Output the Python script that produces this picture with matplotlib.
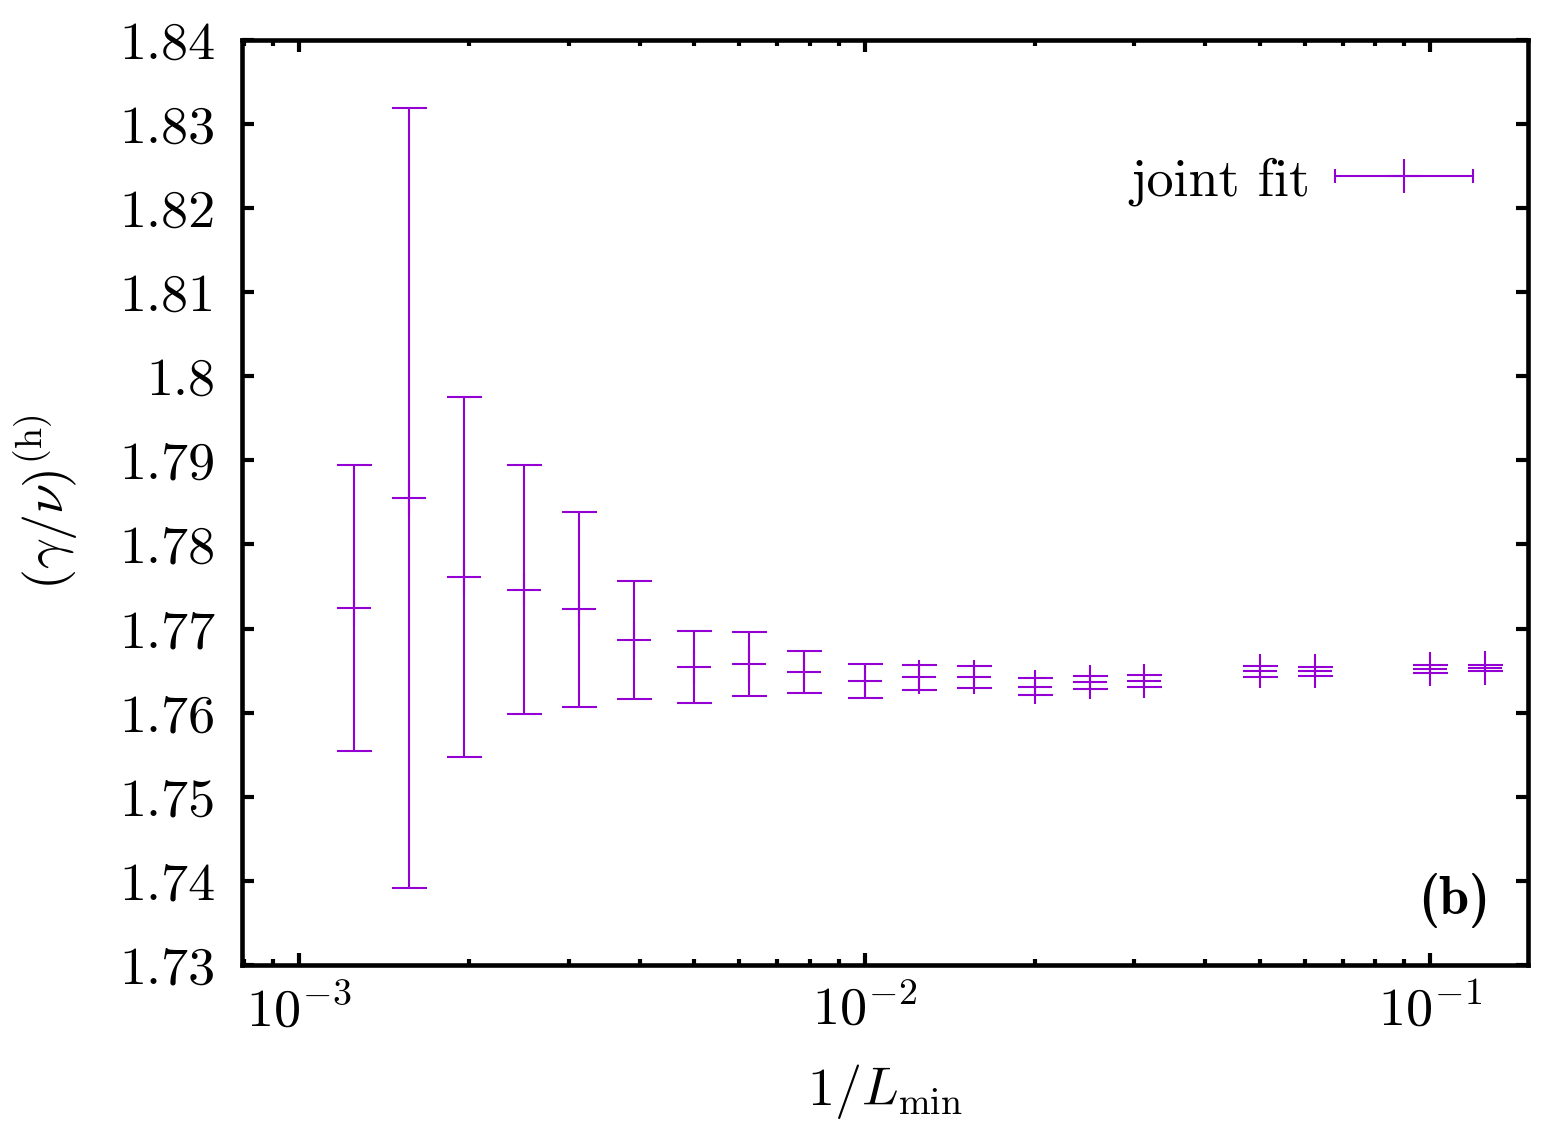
import numpy as np
import matplotlib
matplotlib.use("Agg")
import matplotlib.pyplot as plt
from matplotlib.ticker import FixedLocator, FormatStrFormatter, FuncFormatter, LogLocator, NullFormatter
from matplotlib.legend_handler import HandlerErrorbar

plt.rcParams['font.family'] = 'serif'
plt.rcParams['font.serif'] = ['cmr10', 'DejaVu Serif']
plt.rcParams['mathtext.fontset'] = 'cm'
plt.rcParams['axes.unicode_minus'] = False
plt.rcParams['font.size'] = 39

# smallest lattice size used in the fit
L_min = [800, 640, 512, 400, 320, 256, 200, 160, 128, 100, 80, 64, 50, 40, 32, 20, 16, 10, 8]

# gamma/nu from the joint fit, and its error
gamma_nu = [1.7725, 1.7855, 1.7761, 1.7746, 1.7723, 1.7686, 1.7654, 1.7658, 1.7648, 1.7638,
            1.7642, 1.7642, 1.7631, 1.7636, 1.7638, 1.7649, 1.7649, 1.7652, 1.7653]
gamma_nu_err = [0.0170, 0.0464, 0.0214, 0.0148, 0.0116, 0.0070, 0.0043, 0.0038, 0.0025, 0.0020,
                0.0015, 0.0013, 0.0010, 0.0008, 0.0007, 0.0006, 0.00055, 0.00045, 0.00035]

inv_L = 1.0 / np.array(L_min, dtype=float)
color = '#9400d3'

fig = plt.figure(figsize=(15.41, 11.24), dpi=100)
ax = fig.add_axes([0.157, 0.1415, 0.8346, 0.823])

ax.errorbar(inv_L, gamma_nu, yerr=gamma_nu_err, fmt='+', color=color,
            markersize=25, markeredgewidth=1.5, elinewidth=1.5, capsize=12.6, capthick=1.5)

# legend sample in gnuplot style (horizontal bar)
proxy = ax.errorbar([np.nan], [np.nan], xerr=[np.nan], fmt='+', color=color,
                    markersize=25, markeredgewidth=1.5, elinewidth=1.5, capsize=4.7, capthick=1.5)
hl = 2.55
ax.legend([proxy], ['joint fit'], loc='center right', bbox_to_anchor=(0.957, 0.847),
          frameon=False, markerfirst=False, numpoints=1, handlelength=hl,
          handletextpad=0.45, borderpad=0, borderaxespad=0,
          handler_map={type(proxy): HandlerErrorbar(xerr_size=hl / 2)})

ax.set_xscale('log')
ax.set_xlim(7.92e-4, 0.149)
ax.set_ylim(1.73, 1.84)

ax.yaxis.set_major_locator(FixedLocator(np.arange(1.73, 1.8401, 0.01)))
ax.yaxis.set_major_formatter(FormatStrFormatter('%g'))
ax.xaxis.set_major_locator(LogLocator(base=10))
ax.xaxis.set_major_formatter(FuncFormatter(lambda v, p: r'$10^{%d}$' % round(np.log10(v))))
ax.xaxis.set_minor_locator(LogLocator(base=10, subs=np.arange(2, 10)))
ax.xaxis.set_minor_formatter(NullFormatter())

ax.tick_params(which='both', direction='in', top=True, right=True)
ax.tick_params(which='major', length=8.6, width=3.0)
ax.tick_params(which='minor', length=4.3, width=3.0)
ax.tick_params(axis='y', pad=19)
ax.tick_params(axis='x', pad=14)
for s in ax.spines.values():
    s.set_linewidth(3.3)

ax.set_xlabel(r'$1/L_{\min}$')
ax.set_ylabel(r'$(\gamma/\nu)^{(\mathrm{h})}$')
ax.xaxis.set_label_coords(0.5, -0.105)
ax.yaxis.set_label_coords(-0.126, 0.5)

ax.text(0.9705, 0.07, '(b)', transform=ax.transAxes, ha='right', va='center',
        fontfamily='cmb10', fontsize=39)

fig.savefig('out.png', dpi=100)
